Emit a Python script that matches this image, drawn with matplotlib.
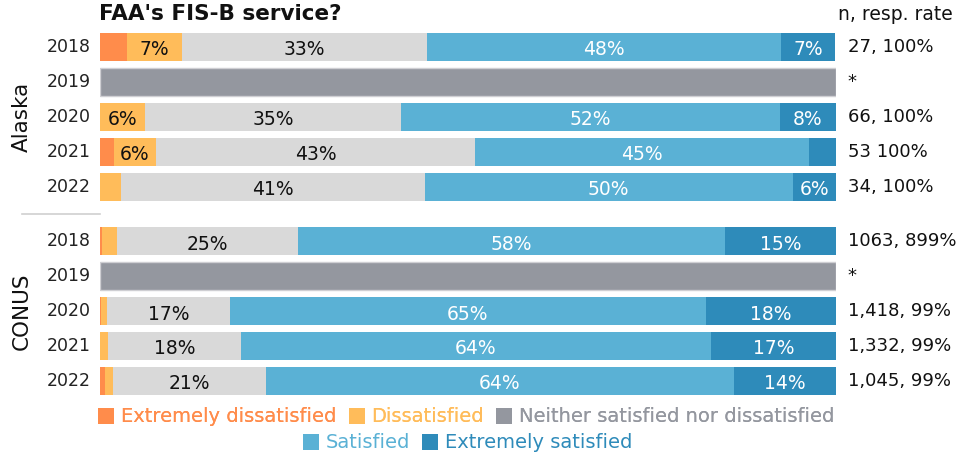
import matplotlib
matplotlib.use('Agg')
import matplotlib.pyplot as plt
import matplotlib.transforms as mtransforms
from matplotlib.lines import Line2D

plt.rcParams['font.family'] = ['DejaVu Sans']

# Survey data (percent of respondents), rows top to bottom
years = ['2018', '2019', '2020', '2021', '2022']
groups = ['Alaska', 'CONUS']
categories = ['Extremely dissatisfied', 'Dissatisfied',
              'Neither satisfied nor dissatisfied', 'Satisfied', 'Extremely satisfied']

alaska_ext_dis = [3.7, 0, 0.0, 1.9, 0.0]
alaska_dis = [7.4, 0, 6.1, 5.7, 2.9]
alaska_neither = [33.3, 0, 34.8, 43.4, 41.2]
alaska_sat = [48.1, 0, 51.5, 45.3, 50.0]
alaska_ext_sat = [7.4, 0, 7.6, 3.8, 5.9]
alaska_n = ['27, 100%', '*', '66, 100%', '53 100%', '34, 100%']

conus_ext_dis = [0.3, 0, 0.2, 0.0, 0.7]
conus_dis = [2.0, 0, 0.8, 1.1, 1.1]
conus_neither = [24.6, 0, 16.6, 18.0, 20.7]
conus_sat = [58.0, 0, 64.7, 63.9, 63.6]
conus_ext_sat = [15.1, 0, 17.7, 17.0, 13.9]
conus_n = ['1063, 899%', '*', '1,418, 99%', '1,332, 99%', '1,045, 99%']

no_data = [False, True, False, False, False]

seg_colors = ['#FF8C4B', '#FFBC5A', '#D9D9D9', '#5AB1D5', '#2E8BBA']
legend_colors = ['#FF8C4B', '#FFBC5A', '#94979F', '#5AB1D5', '#2E8BBA']
text_colors = ['#111111', '#111111', '#111111', 'white', 'white']
nodata_color = '#94979F'

fig = plt.figure(figsize=(9.77, 4.57), dpi=100)
ax = fig.add_axes([100 / 977, 1 - 398.5 / 457, 736 / 977, 369 / 457])

group_data = [
    ([alaska_ext_dis, alaska_dis, alaska_neither, alaska_sat, alaska_ext_sat], alaska_n, 0.0),
    ([conus_ext_dis, conus_dis, conus_neither, conus_sat, conus_ext_sat], conus_n, 55 / 35 + 4),
]

trans = mtransforms.blended_transform_factory(ax.transAxes, ax.transData)

for gi, (series, nlabels, offset) in enumerate(group_data):
    for i, year in enumerate(years):
        y = offset + i
        if no_data[i]:
            ax.barh(y, 100, left=0, height=0.8, color=nodata_color,
                    edgecolor='#CFCFD3', linewidth=1)
        else:
            left = 0
            for k, vals in enumerate(series):
                v = vals[i]
                if v > 0:
                    ax.barh(y, v, left=left, height=0.8, color=seg_colors[k], linewidth=0)
                    if v >= 5:
                        ax.text(left + v / 2, y + 0.08, f'{round(v)}%', ha='center', va='center',
                                fontsize=13.5, color=text_colors[k])
                left += v
        ax.text(-0.012, y, year, transform=trans, ha='right', va='center',
                fontsize=12.5, color='#222222')
        ax.text(1.016, y, nlabels[i], transform=trans, ha='left', va='center',
                fontsize=13, color='#111111')
    ax.text(-0.106, offset + 2, groups[gi], transform=trans, rotation=90,
            ha='center', va='center', fontsize=15.5, color='#111111')

# separator between groups
ax.plot([-0.106, -0.0], [4 + 55 / 70, 4 + 55 / 70], transform=trans,
        color='#D0D0D0', linewidth=1.2, clip_on=False)

ax.text(1.003, -0.93, 'n, resp. rate', transform=trans, ha='left', va='center',
        fontsize=13.5, color='#111111')

ax.set_xlim(0, 100)
ax.set_ylim(4 + 55 / 35 + 4 + 0.5, -0.5)
ax.axis('off')

fig.text(99 / 977, 1 - 20 / 457, "FAA's FIS-B service?", ha='left', va='baseline',
         fontsize=15.5, fontweight='bold', color='#111111')

# legend in two centred rows
def make_handles(idx):
    return [Line2D([], [], marker='s', linestyle='none', markersize=11,
                   markerfacecolor=legend_colors[k], markeredgewidth=0) for k in idx]

row1 = [0, 1, 2]
row2 = [3, 4]
leg1 = fig.legend(make_handles(row1), [categories[k] for k in row1],
                  loc='center', bbox_to_anchor=(466 / 977, 1 - 417 / 457), ncol=3,
                  frameon=False, fontsize=14, handletextpad=0.3, columnspacing=0.6,
                  handlelength=0.9, labelcolor=[legend_colors[k] for k in row1])
leg2 = fig.legend(make_handles(row2), [categories[k] for k in row2],
                  loc='center', bbox_to_anchor=(467 / 977, 1 - 443 / 457), ncol=2,
                  frameon=False, fontsize=14, handletextpad=0.3, columnspacing=0.6,
                  handlelength=0.9, labelcolor=[legend_colors[k] for k in row2])
fig.add_artist(leg1)

fig.savefig('out.png', dpi=100)
